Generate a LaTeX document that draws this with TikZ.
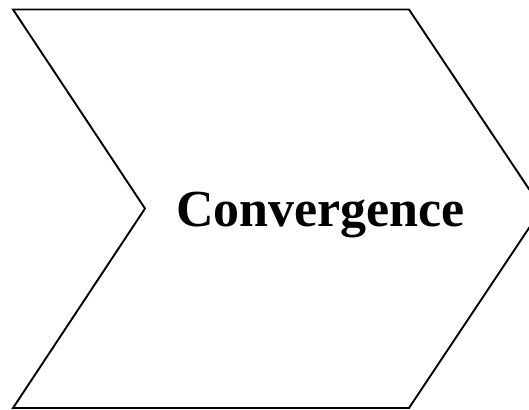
\documentclass[tikz,border=0pt]{standalone}
\usepackage{fontspec}
\setmainfont{Liberation Serif}
\usepackage{tikz}
\usetikzlibrary{positioning,calc}

\begin{document}
\begin{tikzpicture}[
  x=1pt, y=-1pt,
  chevron/.style={
    draw=black,
    line width=1.9pt,
    line join=miter,
    fill=white
  },
  label/.style={
    font=\fontsize{52}{60}\selectfont\bfseries,
    inner sep=0pt,
    anchor=base
  }
]
\useasboundingbox (0,0) rectangle (529,409);
\clip (0,0) rectangle (529,409);

\coordinate (TL) at (13,9.5);
\coordinate (TR) at (409,9.5);
\coordinate (Tip) at (542,208.5);
\coordinate (BR) at (409,408);
\coordinate (BL) at (13,408);
\coordinate (Notch) at (145,208.5);

\draw[chevron] (TL) -- (TR) -- (Tip) -- (BR) -- (BL) -- (Notch) -- cycle;

\node[label] (conv) at (320.5,226.5) {Convergence};
\end{tikzpicture}
\end{document}
